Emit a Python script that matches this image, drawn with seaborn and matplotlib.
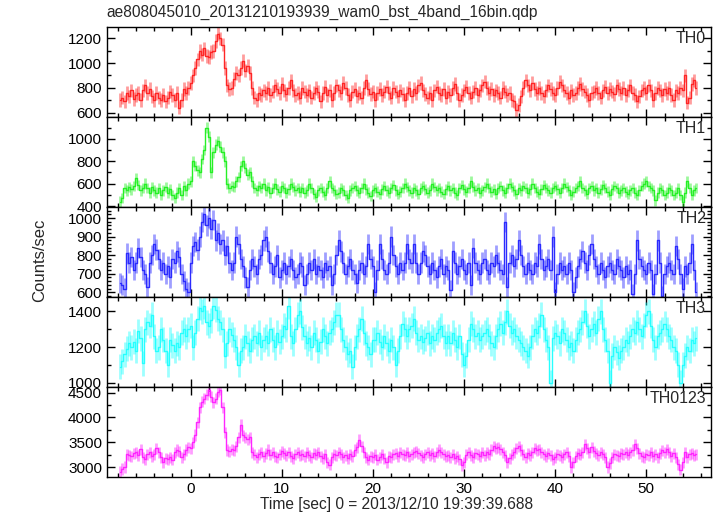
import numpy as np
import seaborn as sns
import matplotlib.pyplot as plt
from matplotlib.ticker import MultipleLocator

# Light curve of WAM0 in four bands plus the sum, 0.25 s bins
t_start = -7.75
dt = 0.25

th0 = [
    700, 720, 690, 760, 730, 780, 710, 740, 760, 700, 780, 820, 760, 790, 730, 700,
    760, 720, 700, 740, 690, 720, 770, 740, 700, 760, 640, 700, 790, 760, 800, 840,
    900, 960, 1030, 1100, 1070, 1120, 1060, 1050, 1090, 1100, 1180, 1240, 1200, 1150, 960, 820,
    790, 800, 870, 920, 900, 960, 1020, 940, 980, 920, 800, 720, 700, 760, 740, 780,
    760, 800, 740, 770, 820, 790, 760, 830, 780, 750, 800, 860, 780, 740, 760, 720,
    800, 770, 740, 780, 720, 760, 800, 770, 690, 760, 810, 740, 780, 700, 760, 820,
    780, 760, 840, 800, 740, 700, 770, 790, 730, 760, 720, 800, 860, 790, 750, 770,
    700, 760, 790, 740, 770, 810, 760, 720, 800, 770, 730, 780, 750, 700, 760, 800,
    730, 790, 760, 820, 840, 780, 750, 720, 760, 700, 780, 810, 760, 740, 790, 720,
    770, 740, 800, 830, 760, 700, 740, 780, 810, 760, 720, 770, 800, 740, 780, 820,
    850, 800, 760, 790, 740, 780, 760, 720, 800, 770, 740, 760, 700, 690, 620, 660,
    730, 800, 860, 820, 780, 840, 790, 760, 800, 760, 730, 780, 820, 790, 760, 740,
    800, 850, 820, 780, 760, 720, 780, 740, 760, 800, 830, 790, 770, 740, 700, 760,
    770, 800, 760, 720, 780, 810, 760, 790, 770, 750, 820, 790, 760, 800, 740, 780,
    820, 760, 740, 690, 730, 780, 800, 760, 820, 780, 700, 760, 800, 780, 740, 790,
    760, 800, 740, 700, 780, 760, 800, 780, 900, 680, 720, 830, 860, 800,
]

th1 = [
    440, 470, 560, 540, 570, 550, 580, 650, 590, 540, 560, 600, 560, 520, 570, 540,
    520, 560, 500, 540, 570, 520, 550, 500, 470, 520, 560, 500, 580, 540, 600, 620,
    800, 760, 720, 700, 820, 900, 1100, 1020, 700, 880, 950, 980, 930, 880, 800, 600,
    560, 580, 570, 620, 660, 760, 800, 740, 680, 700, 620, 560, 540, 580, 560, 600,
    540, 570, 520, 560, 600, 550, 530, 580, 560, 520, 550, 600, 570, 540, 560, 530,
    560, 520, 540, 600, 560, 510, 480, 540, 560, 530, 500, 560, 620, 560, 540, 510,
    520, 560, 540, 500, 470, 540, 560, 580, 540, 520, 560, 600, 550, 520, 490, 540,
    560, 530, 510, 550, 580, 540, 520, 560, 590, 540, 510, 530, 560, 600, 570, 540,
    520, 560, 540, 510, 560, 580, 550, 520, 540, 600, 570, 540, 560, 530, 510, 550,
    580, 540, 560, 520, 500, 560, 590, 550, 530, 560, 620, 570, 540, 560, 520, 540,
    570, 600, 560, 530, 550, 510, 560, 580, 540, 520, 560, 600, 570, 540, 510, 560,
    540, 580, 560, 520, 550, 600, 560, 530, 510, 550, 590, 560, 540, 520, 560, 580,
    550, 520, 560, 600, 570, 540, 500, 530, 560, 580, 620, 560, 540, 510, 560, 580,
    540, 560, 520, 550, 590, 560, 530, 500, 550, 580, 560, 520, 540, 560, 530, 510,
    540, 560, 520, 500, 540, 580, 600, 620, 580, 560, 540, 450, 520, 560, 540, 500,
    520, 560, 540, 500, 520, 560, 500, 440, 520, 620, 560, 500, 540, 560,
]

th2 = [
    650, 640, 620, 810, 760, 790, 720, 760, 840, 790, 720, 700, 630, 760, 800, 860,
    830, 780, 720, 760, 700, 740, 680, 780, 760, 820, 790, 700, 660, 620, 600, 760,
    850, 870, 830, 900, 980, 1020, 960, 1000, 940, 990, 880, 920, 860, 880, 800, 850,
    760, 720, 760, 900, 860, 780, 740, 680, 630, 720, 780, 740, 700, 780, 800, 880,
    900, 820, 760, 700, 740, 800, 680, 720, 760, 700, 740, 780, 720, 680, 700, 760,
    740, 640, 700, 760, 720, 780, 700, 740, 720, 680, 760, 720, 740, 640, 700, 800,
    880, 820, 760, 700, 740, 780, 720, 700, 650, 720, 760, 700, 740, 860, 780, 740,
    600, 720, 860, 780, 720, 700, 760, 900, 800, 740, 700, 760, 720, 760, 860, 780,
    760, 860, 760, 700, 760, 820, 800, 740, 700, 760, 720, 680, 740, 780, 700, 740,
    720, 610, 820, 760, 700, 740, 780, 720, 700, 760, 640, 840, 760, 720, 700, 760,
    780, 720, 700, 760, 740, 800, 760, 720, 700, 980, 630, 760, 800, 740, 780, 880,
    800, 740, 700, 760, 720, 700, 760, 740, 860, 780, 720, 740, 780, 720, 900, 600,
    700, 760, 720, 740, 700, 760, 720, 600, 680, 740, 780, 820, 760, 720, 800, 860,
    780, 740, 700, 760, 720, 680, 740, 760, 720, 700, 780, 740, 720, 680, 740, 700,
    720, 590, 700, 880, 780, 740, 720, 700, 760, 720, 590, 700, 880, 760, 580, 700,
    740, 760, 720, 700, 850, 780, 700, 620, 740, 700, 760, 860, 720, 600,
]

th3 = [
    1090, 1120, 1160, 1190, 1220, 1200, 1230, 1180, 1290, 1250, 1110, 1300, 1340, 1320, 1380, 1260,
    1180, 1200, 1300, 1240, 1180, 1100, 1240, 1210, 1180, 1220, 1200, 1280, 1300, 1260, 1300, 1320,
    1200, 1280, 1360, 1420, 1400, 1430, 1340, 1320, 1350, 1430, 1410, 1360, 1340, 1300, 1150, 1220,
    1300, 1270, 1240, 1200, 1100, 1180, 1200, 1260, 1220, 1180, 1240, 1260, 1220, 1280, 1200, 1240,
    1260, 1220, 1300, 1240, 1200, 1280, 1230, 1260, 1320, 1300, 1430, 1260, 1220, 1300, 1380, 1400,
    1310, 1260, 1220, 1250, 1200, 1280, 1240, 1180, 1230, 1300, 1260, 1220, 1280, 1300, 1340, 1380,
    1380, 1300, 1240, 1200, 1160, 1180, 1090, 1200, 1260, 1300, 1360, 1280, 1220, 1200, 1160, 1240,
    1240, 1280, 1230, 1200, 1260, 1220, 1180, 1240, 1200, 1100, 1180, 1260, 1330, 1300, 1260, 1300,
    1320, 1360, 1280, 1240, 1260, 1230, 1250, 1280, 1220, 1260, 1240, 1280, 1300, 1320, 1260, 1220,
    1260, 1220, 1280, 1240, 1200, 1260, 1160, 1100, 1150, 1240, 1330, 1300, 1260, 1280, 1240, 1260,
    1280, 1300, 1260, 1220, 1200, 1260, 1300, 1330, 1280, 1340, 1400, 1320, 1280, 1300, 1260, 1240,
    1220, 1200, 1180, 1150, 1200, 1260, 1300, 1280, 1320, 1380, 1300, 1240, 1200, 1000, 1250, 1280,
    1260, 1220, 1300, 1280, 1240, 1200, 1220, 1180, 1240, 1280, 1300, 1340, 1400, 1320, 1260, 1300,
    1330, 1280, 1360, 1400, 1300, 1240, 1180, 1000, 1150, 1200, 1170, 1140, 1180, 1200, 1240, 1220,
    1260, 1300, 1280, 1340, 1300, 1260, 1320, 1380, 1400, 1320, 1240, 1200, 1260, 1280, 1300, 1330,
    1300, 1260, 1240, 1200, 1180, 1100, 1000, 1100, 1150, 1200, 1180, 1240, 1220, 1250,
]

th0123 = [
    2900, 2960, 3000, 3260, 3240, 3220, 3280, 3300, 3240, 3360, 3200, 3160, 3260, 3300, 3220, 3260,
    3380, 3300, 3200, 3100, 3180, 3160, 3200, 3150, 3300, 3350, 3320, 3200, 3260, 3350, 3400, 3380,
    3500, 3650, 3900, 4200, 4320, 4380, 4460, 4550, 4420, 4300, 4380, 4520, 4560, 4200, 3700, 3350,
    3320, 3360, 3340, 3420, 3600, 3850, 3640, 3600, 3560, 3600, 3300, 3250, 3200, 3260, 3300, 3220,
    3280, 3350, 3250, 3300, 3220, 3200, 3260, 3320, 3280, 3240, 3300, 3220, 3180, 3260, 3300, 3240,
    3260, 3220, 3300, 3240, 3200, 3280, 3250, 3300, 3220, 3180, 3260, 3100, 3050, 3200, 3260, 3240,
    3300, 3260, 3200, 3240, 3180, 3260, 3220, 3350, 3400, 3550, 3420, 3300, 3200, 3150, 3220, 3200,
    3250, 3150, 3200, 3260, 3180, 3100, 3220, 3200, 3260, 3280, 3220, 3300, 3260, 3240, 3300, 3220,
    3260, 3300, 3320, 3280, 3240, 3200, 3260, 3300, 3240, 3280, 3220, 3300, 3350, 3300, 3260, 3220,
    3240, 3200, 3260, 3180, 3220, 3160, 3040, 3100, 3250, 3300, 3240, 3200, 3280, 3260, 3220, 3300,
    3240, 3300, 3260, 3350, 3420, 3380, 3400, 3360, 3300, 3240, 3100, 3180, 3250, 3300, 3380, 3420,
    3350, 3260, 3200, 3280, 3240, 3300, 3380, 3340, 3360, 3300, 3260, 3220, 3280, 3240, 3160, 3200,
    3260, 3240, 3200, 3260, 3300, 3220, 3000, 3100, 3220, 3280, 3250, 3300, 3460, 3380, 3300, 3400,
    3320, 3280, 3240, 3300, 3260, 3200, 3000, 3080, 3200, 3260, 3240, 3220, 3280, 3260, 3300, 3250,
    3300, 3350, 3460, 3380, 3280, 3220, 3200, 3260, 3240, 3300, 3220, 3260, 3200, 3280, 3340, 3300,
    3360, 3300, 3220, 3280, 3200, 3060, 2950, 3100, 3300, 3200, 3260, 3280, 3240, 3260,
]

labels = ["TH0", "TH1", "TH2", "TH3", "TH0123"]
series = [th0, th1, th2, th3, th0123]
errors = [55, 47, 55, 70, 115]
colors = ["#ff2626", "#26f026", "#2b2bff", "#26ffff", "#ff26ff"]
ylims = [(562, 1290), (391, 1194), (575, 1059), (977, 1481), (2810, 4615)]
major = [200, 200, 100, 200, 500]
minor = [100, 100, 20, 100, 250]

sns.set_style("ticks")
plt.rcParams["font.family"] = ["Liberation Sans", "DejaVu Sans"]
plt.rcParams["font.size"] = 11

fig, axes = plt.subplots(5, 1, figsize=(7.17, 5.16), dpi=100, sharex=True)
fig.subplots_adjust(left=0.149, right=0.9916, top=0.947, bottom=0.0762, hspace=0)

for i, ax in enumerate(axes):
    y = np.array(series[i])
    t = t_start + dt * np.arange(len(y))
    ax.errorbar(t, y, yerr=errors[i], fmt="none", ecolor=colors[i],
                elinewidth=2, alpha=0.45)
    sns.lineplot(x=t, y=y, drawstyle="steps-mid", color=colors[i], lw=1, ax=ax)

    ax.set_xlim(-9.2, 57.1)
    ax.set_ylim(*ylims[i])
    ax.xaxis.set_major_locator(MultipleLocator(10))
    ax.xaxis.set_minor_locator(MultipleLocator(2))
    ax.yaxis.set_major_locator(MultipleLocator(major[i]))
    ax.yaxis.set_minor_locator(MultipleLocator(minor[i]))
    ax.tick_params(which="both", direction="in", top=True, right=True,
                   colors="black", labelsize=11, width=1)
    ax.tick_params(which="major", length=6)
    ax.tick_params(which="minor", length=3)
    for s in ax.spines.values():
        s.set_linewidth(1)
        s.set_color("black")
    ax.set_ylabel("")
    ax.text(0.992, 0.955, labels[i], transform=ax.transAxes,
            ha="right", va="top", fontsize=11.5)

fig.text(0.149, 1 - 12 / 516, "ae808045010_20131210193939_wam0_bst_4band_16bin.qdp",
         ha="left", va="center", fontsize=11.2)
fig.text(40 / 717, 1 - 260 / 516, "Counts/sec", rotation=90,
         ha="center", va="center", fontsize=12)
fig.text(397 / 717, 1 - 505 / 516, "Time [sec] 0 = 2013/12/10 19:39:39.688",
         ha="center", va="center", fontsize=11.2)

fig.savefig("out.png", dpi=100)
